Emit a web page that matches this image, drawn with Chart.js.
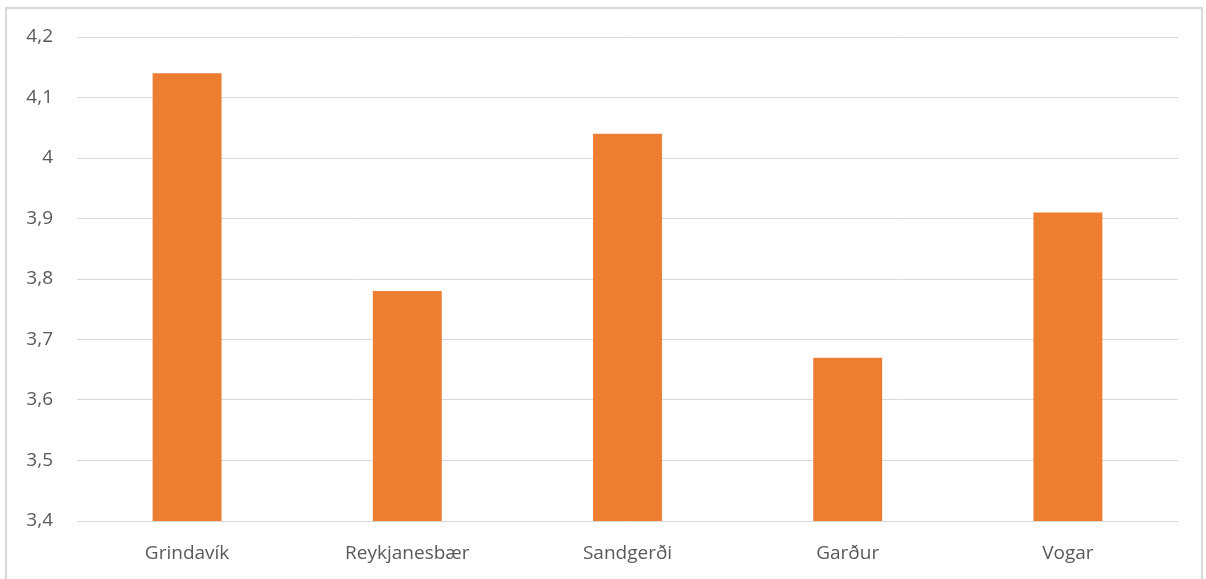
<!DOCTYPE html>
<html>
<head>
<meta charset="utf-8">
<script src="https://cdn.jsdelivr.net/npm/chart.js"></script>
<style>
  html, body { margin: 0; padding: 0; background: #fff; }
  #frame {
    position: absolute; left: 5px; top: 7px; width: 1198px; height: 600px;
    border: 2px solid #d9d9d9; box-sizing: border-box;
  }
  #wrap { position: absolute; left: 0; top: 0; width: 1206px; height: 579px; }
</style>
</head>
<body>
<div id="frame"></div>
<div id="wrap"><canvas id="chart"></canvas></div>
<script>
const categories = ['Grindavík', 'Reykjanesbær', 'Sandgerði', 'Garður', 'Vogar'];
const values = [4.14, 3.78, 4.04, 3.67, 3.91];
const yTickLabels = ['3,4', '3,5', '3,6', '3,7', '3,8', '3,9', '4', '4,1', '4,2'];

const ctx = document.getElementById('chart').getContext('2d');
new Chart(ctx, {
  type: 'bar',
  data: {
    labels: categories,
    datasets: [{
      data: values,
      backgroundColor: '#ed7d31',
      borderWidth: 0,
      categoryPercentage: 1,
      barPercentage: 0.313,
    }],
  },
  options: {
    responsive: true,
    maintainAspectRatio: false,
    animation: false,
    layout: { padding: { top: 37, right: 28, bottom: 0, left: 0 } },
    plugins: { legend: { display: false }, tooltip: { enabled: false } },
    scales: {
      x: {
        grid: { display: false },
        border: { display: false },
        ticks: { color: '#595959', padding: 13, font: { family: 'Open Sans', size: 19 } },
        afterFit: (scale) => { scale.height = 58; },
      },
      y: {
        min: 3.4,
        max: 4.2,
        grid: { color: '#d9d9d9', lineWidth: 1, drawTicks: false },
        border: { display: false },
        ticks: {
          stepSize: 0.1,
          color: '#595959',
          padding: 24,
          font: { family: 'Open Sans', size: 19 },
          callback: (v, i) => yTickLabels[i],
        },
        afterFit: (scale) => { scale.width = 77; },
      },
    },
  },
});
</script>
</body>
</html>
